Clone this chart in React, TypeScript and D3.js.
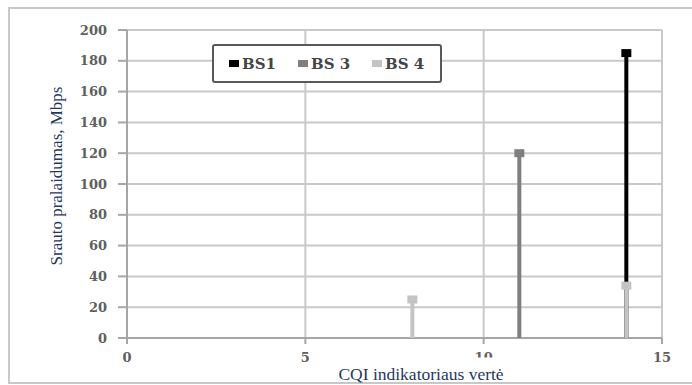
import React from "react";
import * as d3 from "d3";

// CQI value vs. throughput for each base station
const seriesNames = ["BS1", "BS 3", "BS 4"];
const seriesColors = ["#000000", "#7f7f7f", "#c4c4c4"];
const bs1Cqi = [14];
const bs1Mbps = [185];
const bs3Cqi = [11];
const bs3Mbps = [120];
const bs4Cqi = [8, 14];
const bs4Mbps = [25, 34];
const xTicks = [0, 5, 10, 15];
const yTicks = [0, 20, 40, 60, 80, 100, 120, 140, 160, 180, 200];

const W = 692;
const H = 385;
const SERIF = "'Liberation Serif', 'DejaVu Serif', serif";
const WIDE_SERIF = "'DejaVu Serif', serif";

export default function App() {
  const x = d3.scaleLinear().domain([0, 15]).range([127, 662]);
  const y = d3.scaleLinear().domain([0, 200]).range([338, 30]);

  const series = [
    { name: seriesNames[0], color: seriesColors[0], xs: bs1Cqi, ys: bs1Mbps },
    { name: seriesNames[1], color: seriesColors[1], xs: bs3Cqi, ys: bs3Mbps },
    { name: seriesNames[2], color: seriesColors[2], xs: bs4Cqi, ys: bs4Mbps },
  ];

  const legendX = [229, 298, 372];

  return (
    <svg
      width={W}
      height={H}
      style={{ position: "absolute", left: 0, top: 0, background: "#fff" }}
    >
      {/* chart frame */}
      <rect x={9} y={8} width={720} height={375} fill="#fff" stroke="#c8c8c8" strokeWidth={2} />

      {/* gridlines */}
      {yTicks.map((t) => (
        <line key={"gy" + t} x1={x(0)} x2={x(15)} y1={y(t)} y2={y(t)} stroke="#c9c9c9" strokeWidth={2} />
      ))}
      {xTicks.map((t) => (
        <line key={"gx" + t} x1={x(t)} x2={x(t)} y1={y(0)} y2={y(200)} stroke="#c9c9c9" strokeWidth={2} />
      ))}

      {/* axes */}
      <line x1={x(0)} x2={x(0)} y1={y(0)} y2={y(200)} stroke="#a6a6a6" strokeWidth={2} />
      <line x1={x(0)} x2={x(15)} y1={y(0)} y2={y(0)} stroke="#a6a6a6" strokeWidth={2} />
      {yTicks.map((t) => (
        <line key={"ty" + t} x1={x(0) - 9} x2={x(0)} y1={y(t)} y2={y(t)} stroke="#a6a6a6" strokeWidth={2} />
      ))}
      {xTicks.map((t) => (
        <line key={"tx" + t} x1={x(t)} x2={x(t)} y1={y(0)} y2={y(0) + 6} stroke="#a6a6a6" strokeWidth={2} />
      ))}

      {/* tick labels */}
      {yTicks.map((t) => (
        <text
          key={"ly" + t}
          x={107}
          y={y(t)}
          dy="0.35em"
          textAnchor="end"
          fontFamily={WIDE_SERIF}
          fontWeight="bold"
          fontSize={13}
          fill="#5f5f5f"
        >
          {t}
        </text>
      ))}
      {xTicks.map((t) => (
        <text
          key={"lx" + t}
          x={x(t)}
          y={357}
          dy="0.35em"
          textAnchor="middle"
          fontFamily={WIDE_SERIF}
          fontWeight="bold"
          fontSize={13}
          fill="#5f5f5f"
        >
          {t}
        </text>
      ))}

      {/* stems and markers */}
      {series.map((s) =>
        s.xs.map((cx, i) => (
          <g key={s.name + i}>
            <line x1={x(cx)} x2={x(cx)} y1={y(0)} y2={y(s.ys[i])} stroke={s.color} strokeWidth={4} />
            <rect x={x(cx) - 5} y={y(s.ys[i]) - 4} width={10} height={8} fill={s.color} />
          </g>
        ))
      )}

      {/* legend */}
      <rect x={213} y={45} width={228} height={37} rx={2} fill="#fff" stroke="#595959" strokeWidth={2} />
      {series.map((s, i) => (
        <g key={"lg" + s.name}>
          <rect x={legendX[i]} y={60} width={10} height={7} fill={s.color} />
          <text
            x={legendX[i] + 13}
            y={63.5}
            dy="0.35em"
            fontFamily={WIDE_SERIF}
            fontWeight="bold"
            fontSize={15}
            fill="#454545"
          >
            {s.name}
          </text>
        </g>
      ))}

      {/* axis titles */}
      <text
        transform={`translate(56, ${(y(0) + y(200)) / 2 - 8}) rotate(-90)`}
        textAnchor="middle"
        dy="0.35em"
        fontFamily={SERIF}
        fontSize={17}
        fill="#1f3864"
      >
        Srauto pralaidumas, Mbps
      </text>
      <rect x={326} y={357.5} width={196} height={24.5} fill="#fff" />
      <text x={421} y={380} textAnchor="middle" fontFamily={SERIF} fontSize={17.5} fill="#1f3864">
        CQI indikatoriaus vertė
      </text>
    </svg>
  );
}
